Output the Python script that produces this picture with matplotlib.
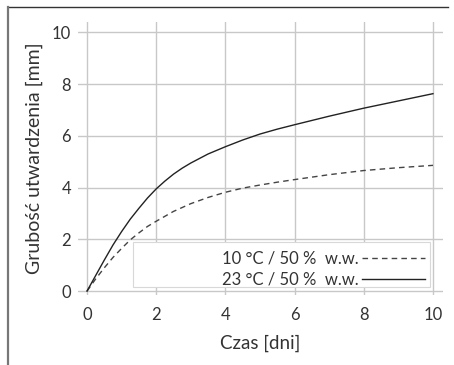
import matplotlib
matplotlib.use("Agg")
import matplotlib.pyplot as plt
from matplotlib.patches import Rectangle
from matplotlib.lines import Line2D

# ---------------- data ---------------- #
days_23 = [0, 0.25, 0.5, 0.75, 1, 1.25, 1.5, 1.75, 2, 2.25, 2.5, 2.75, 3, 3.5, 4,
           4.5, 5, 5.5, 6, 7, 8, 9, 10]
thick_23 = [0, 0.6, 1.2, 1.78, 2.3, 2.78, 3.2, 3.6, 3.95, 4.25, 4.52, 4.75, 4.95, 5.3, 5.58,
            5.84, 6.07, 6.26, 6.43, 6.76, 7.07, 7.35, 7.63]
days_10 = [0, 0.25, 0.5, 0.75, 1, 1.25, 1.5, 1.75, 2, 2.5, 3, 3.5, 4, 4.5, 5, 5.5, 6,
           7, 8, 9, 10]
thick_10 = [0, 0.47, 0.9, 1.3, 1.65, 1.98, 2.25, 2.5, 2.7, 3.08, 3.38, 3.62, 3.82, 3.98,
            4.1, 4.21, 4.31, 4.5, 4.66, 4.77, 4.86]
labels = ["10 °C / 50 %  w.w.", "23 °C / 50 %  w.w."]
xticks = [0, 2, 4, 6, 8, 10]
yticks = [0, 2, 4, 6, 8, 10]

plt.rcParams['font.family'] = ['Lato', 'DejaVu Sans']
txt = '#333333'

W, H = 454, 365
fig = plt.figure(figsize=(W / 100, H / 100), dpi=100)
ax = fig.add_axes([78 / W, (H - 295) / H, 365 / W, 273 / H])

ax.plot(days_10, thick_10, color='#444444', lw=1.0, ls=(0, (4, 3)), label=labels[0])
ax.plot(days_23, thick_23, color='#222222', lw=1.0, label=labels[1])

ax.set_xlim(-0.26, 10.29)
ax.set_ylim(-0.15, 10.4)
ax.set_xticks(xticks)
ax.set_yticks(yticks)
ax.grid(True, color='#c8c8c8', lw=1.0)
ax.set_axisbelow(True)
for s in ax.spines.values():
    s.set_visible(False)
ax.tick_params(length=0, labelsize=12, colors=txt)
ax.tick_params(axis='x', pad=9)
ax.tick_params(axis='y', pad=5)

ax.set_xlabel("Czas [dni]", fontsize=13.5, color=txt, labelpad=8)
ax.set_ylabel("Grubość utwardzenia [mm]", fontsize=14, color=txt, labelpad=6)

# legend box
ax.add_patch(Rectangle((0.151, 0.029), 0.813, 0.165, transform=ax.transAxes,
                       facecolor='white', edgecolor='#d8d8d8', lw=0.8, zorder=3))
leg = ax.legend(loc='lower right', bbox_to_anchor=(0.992, -0.028), frameon=False,
                markerfirst=False, handlelength=3.8, handletextpad=0.2,
                fontsize=12, labelspacing=0.3, alignment='right')
for t in leg.get_texts():
    t.set_color(txt)
leg.set_zorder(4)

# outer frame (top and left)
fig.add_artist(Line2D([8 / W, 448 / W], [1 - 7 / H, 1 - 7 / H], color='#333333', lw=1.0))
fig.add_artist(Line2D([8 / W, 8 / W], [0, 1 - 7 / H], color='#777777', lw=1.6))

fig.savefig("out.png", dpi=100)
